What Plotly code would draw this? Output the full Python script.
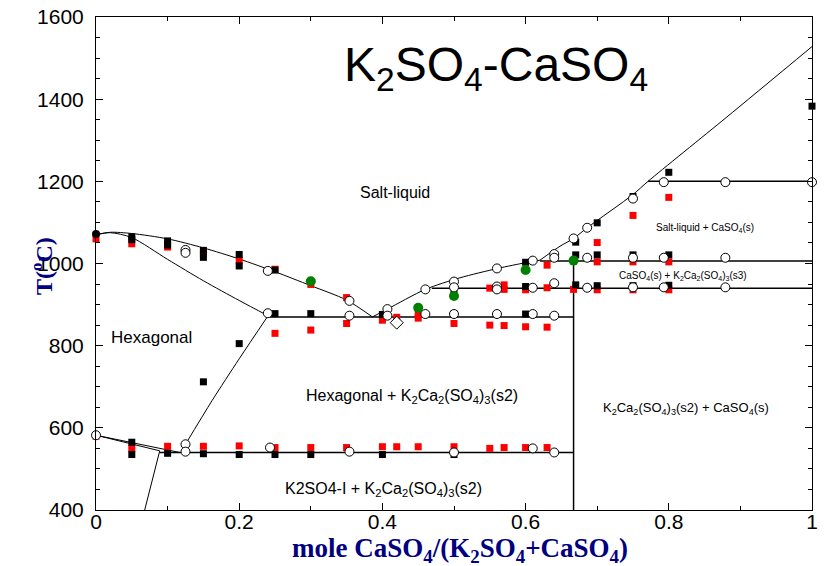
import plotly.graph_objects as go

# ---------------- data ----------------
# phase boundary curves (mole fraction CaSO4, T in deg C)
liq_left_x = [0.0, 0.02, 0.05, 0.1, 0.15, 0.2, 0.25, 0.3, 0.35, 0.386]
liq_left_T = [1070, 1076, 1073, 1060, 1038, 1011, 980, 946, 911, 870]

hex_bound_x = [0.0, 0.02, 0.05, 0.1, 0.15, 0.2, 0.24]
hex_bound_T = [1070, 1075, 1063, 1010, 958, 910, 873]

s2_bound_x = [0.24, 0.2, 0.162, 0.125]
s2_bound_T = [872, 768, 666, 560]

low_a_x = [0.0, 0.117]
low_a_T = [582, 540]
low_b_x = [0.0, 0.089, 0.068]
low_b_T = [582, 544, 400]

liq_right1_x = [0.386, 0.407, 0.46, 0.508, 0.561, 0.6, 0.62]
liq_right1_T = [870, 889, 937, 965, 988, 1002, 1008]
liq_right2_x = [0.62, 0.648, 0.667, 0.686, 0.75, 0.771, 0.88, 1.0]
liq_right2_T = [1008, 1042, 1061, 1087, 1168, 1200, 1355, 1528]

inv_T = [540, 870, 940, 1006, 1200]
inv_x0 = [0.089, 0.24, 0.469, 0.62, 0.771]
inv_x1 = [0.667, 0.667, 1.0, 1.0, 1.0]

vert_x = [0.667, 0.667]
vert_T = [400, 1006]

# experimental points
black_sq_x = [0.05, 0.05, 0.1, 0.1, 0.15, 0.15, 0.2, 0.2, 0.25,
              0.05, 0.05, 0.1, 0.15, 0.2, 0.25, 0.3, 0.4, 0.5,
              0.15, 0.2,
              0.25, 0.3, 0.4, 0.5, 0.6,
              0.5, 0.6, 0.6, 0.67, 0.67, 0.67, 0.7, 0.7, 0.7, 0.75, 0.75, 0.75,
              0.8, 0.8, 0.8, 1.0]
black_sq_T = [1065, 1058, 1055, 1045, 1032, 1015, 1022, 994, 984,
              565, 535, 538, 537, 535, 535, 535, 535, 535,
              712, 805,
              878, 878, 876, 877, 877,
              934, 1003, 944, 1052, 1021, 948, 1099, 1021, 946, 1163, 1021, 946,
              1222, 1021, 947, 1383]

red_sq_x = [0.0, 0.0, 0.05, 0.05, 0.1, 0.1, 0.15, 0.15, 0.2, 0.2, 0.25, 0.25, 0.25,
            0.3, 0.3, 0.3, 0.35, 0.35, 0.35, 0.4, 0.4, 0.42, 0.42, 0.45, 0.45, 0.45,
            0.5, 0.5, 0.55, 0.55, 0.55, 0.57, 0.57, 0.57, 0.57, 0.6, 0.6, 0.6,
            0.63, 0.63, 0.63, 0.63, 0.667, 0.7, 0.7, 0.7, 0.75, 0.75, 0.75,
            0.8, 0.8, 0.8]
red_sq_T = [1060, 580, 1048, 550, 1040, 555, 1025, 555, 1008, 556, 986, 830, 552,
            949, 838, 552, 917, 854, 552, 862, 554, 869, 554, 875, 867, 554,
            854, 554, 940, 850, 550, 948, 937, 849, 552, 936, 846, 552,
            996, 941, 845, 552, 937, 1051, 1004, 936, 1117, 1004, 936,
            1161, 1004, 936]

open_c_x = [0.0, 0.125, 0.125, 0.24, 0.24, 0.125, 0.125, 0.243, 0.354, 0.354, 0.354,
            0.407, 0.407, 0.46, 0.46, 0.5, 0.5, 0.5, 0.5, 0.56, 0.56, 0.56, 0.56,
            0.61, 0.61, 0.61, 0.61, 0.64, 0.64, 0.64, 0.64, 0.64, 0.667,
            0.686, 0.686, 0.686, 0.75, 0.75, 0.75, 0.793, 0.793, 0.793,
            0.879, 0.879, 0.879, 1.0]
open_c_T = [582, 1033, 1026, 982, 879, 560, 542, 552, 909, 873, 542,
            889, 873, 937, 877, 956, 942, 877, 540, 988, 944, 937, 877,
            1007, 941, 877, 550, 1023, 1014, 952, 873, 540, 1061,
            1087, 1014, 941, 1158, 1014, 942, 1198, 1014, 942,
            1198, 1014, 942, 1198]

green_x = [0.3, 0.45, 0.5, 0.6, 0.667]
green_T = [957, 892, 921, 984, 1007]

black_c_x = [0.0]
black_c_T = [1072]

diamond_x = [0.42]
diamond_T = [856]

x_tick_vals = [0, 0.2, 0.4, 0.6, 0.8, 1]
x_tick_text = ["0", "0.2", "0.4", "0.6", "0.8", "1"]
y_tick_vals = [400, 600, 800, 1000, 1200, 1400, 1600]
y_tick_text = ["400", "600", "800", "1000", "1200", "1400", "1600"]

# ---------------- figure ----------------
fig = go.Figure()

def curve(x, y, spline=True, width=1):
    fig.add_trace(go.Scatter(x=x, y=y, mode="lines",
                             line=dict(color="black", width=width,
                                       shape="spline" if spline else "linear",
                                       smoothing=0.8),
                             hoverinfo="skip", showlegend=False))

curve(liq_left_x, liq_left_T)
curve(hex_bound_x, hex_bound_T)
curve(s2_bound_x, s2_bound_T)
curve(low_a_x, low_a_T, spline=False)
curve(low_b_x, low_b_T, spline=False)
curve(liq_right1_x, liq_right1_T)
curve(liq_right2_x, liq_right2_T)
for t, a, b in zip(inv_T, inv_x0, inv_x1):
    curve([a, b], [t, t], spline=False, width=1.5)
curve(vert_x, vert_T, spline=False, width=1.5)

def pts(x, y, symbol, color, size, line_color=None, line_width=0):
    fig.add_trace(go.Scatter(x=x, y=y, mode="markers", cliponaxis=False,
                             marker=dict(symbol=symbol, color=color, size=size,
                                         line=dict(color=line_color or color, width=line_width)),
                             showlegend=False))

pts(red_sq_x, red_sq_T, "square", "#ff0000", 7)
pts(black_sq_x, black_sq_T, "square", "black", 7)
pts(open_c_x, open_c_T, "circle", "white", 9, "black", 1)
pts(green_x, green_T, "circle", "#008000", 10)
pts(black_c_x, black_c_T, "circle", "black", 8)
pts(diamond_x, diamond_T, "diamond", "white", 10, "black", 1)

ann_font = "Liberation Sans, Arial, sans-serif"
serif = "Liberation Serif, Times New Roman, serif"

def label(text, x, y, size):
    fig.add_annotation(x=x, y=y, text=text, showarrow=False,
                       font=dict(family=ann_font, size=size, color="black"))

label("K<sub>2</sub>SO<sub>4</sub>-CaSO<sub>4</sub>", 0.559, 1476, 48)
label("Salt-liquid", 0.418, 1172, 16)
label("Salt-liquid + CaSO<sub>4</sub>(s)", 0.851, 1086, 10)
label("CaSO<sub>4</sub>(s) + K<sub>2</sub>Ca<sub>2</sub>(SO<sub>4</sub>)<sub>3</sub>(s3)", 0.82, 970, 10)
label("Hexagonal", 0.077, 819, 17)
label("Hexagonal + K<sub>2</sub>Ca<sub>2</sub>(SO<sub>4</sub>)<sub>3</sub>(s2)", 0.441, 677, 16)
label("K<sub>2</sub>Ca<sub>2</sub>(SO<sub>4</sub>)<sub>3</sub>(s2) + CaSO<sub>4</sub>(s)", 0.824, 646, 13)
label("K2SO4-I + K<sub>2</sub>Ca<sub>2</sub>(SO<sub>4</sub>)<sub>3</sub>(s2)", 0.402, 449, 16)

# axis titles (placed as paper annotations; the y title overlaps the tick labels in the original)
fig.add_annotation(xref="paper", yref="paper", x=0.508, y=-0.081,
                   text="<b>mole CaSO<sub>4</sub>/(K<sub>2</sub>SO<sub>4</sub>+CaSO<sub>4</sub>)</b>",
                   showarrow=False, xanchor="center", yanchor="middle",
                   font=dict(family=serif, size=27, color="#000080"))
fig.add_annotation(xref="paper", yref="paper", x=-0.0754, y=0.495,
                   text="<b>T(<sup>o</sup>C)</b>", textangle=-90,
                   showarrow=False, xanchor="center", yanchor="middle",
                   font=dict(family=serif, size=24, color="#000080"))

axis_common = dict(showgrid=False, zeroline=False, showline=True, linecolor="black",
                   linewidth=1, mirror="allticks", ticks="inside", ticklen=7,
                   tickcolor="black", tickwidth=1, automargin=False,
                   ticklabeloverflow="allow",
                   tickfont=dict(family=ann_font, size=21, color="black"))

fig.update_xaxes(range=[0, 1], tickvals=x_tick_vals, ticktext=x_tick_text,
                 minor=dict(dtick=0.1, ticks="inside", ticklen=4, tickcolor="black"),
                 ticklabelstandoff=-7,
                 **axis_common)
fig.update_yaxes(range=[400, 1600], tickvals=y_tick_vals, ticktext=y_tick_text,
                 minor=dict(dtick=50, ticks="inside", ticklen=4, tickcolor="black"),
                 ticklabelstandoff=7,
                 **axis_common)

# the page body adds an 8px offset; margins compensate so the plot area sits at 96..812 x 17..510
fig.update_layout(width=838, height=566, plot_bgcolor="white", paper_bgcolor="white",
                  margin=dict(l=88, r=34, t=9, b=64), showlegend=False)

fig.write_html("out.html")
